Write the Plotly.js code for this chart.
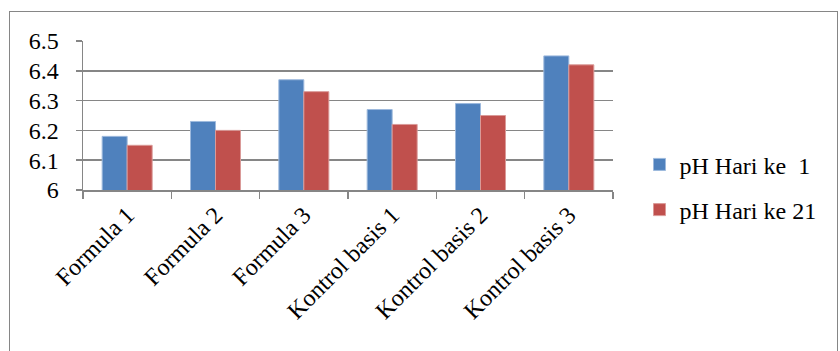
<!DOCTYPE html>
<html>
<head>
<meta charset="utf-8">
<script src="https://cdn.plot.ly/plotly-3.0.1.min.js"></script>
<style>
html,body{margin:0;padding:0;background:#fff;}
#wrap{position:relative;width:840px;height:351px;}
#chart{position:absolute;left:0;top:0;width:840px;height:351px;}
#frame{position:absolute;left:9px;top:11px;width:829px;height:360px;border:1.5px solid #868686;pointer-events:none;box-sizing:border-box;}
</style>
</head>
<body>
<div id="wrap"><div id="chart"></div><div id="frame"></div></div>
<script>
const categories = ["Formula 1", "Formula 2", "Formula 3", "Kontrol basis 1", "Kontrol basis 2", "Kontrol basis 3"];
const seriesNames = ["pH Hari ke  1", "pH Hari ke 21"];
const day1 = [6.18, 6.23, 6.37, 6.27, 6.29, 6.45];
const day21 = [6.15, 6.20, 6.33, 6.22, 6.25, 6.42];
const yTicks = [6, 6.1, 6.2, 6.3, 6.4, 6.5];
const yTickLabels = ["6", "6.1", "6.2", "6.3", "6.4", "6.5"];

const font = {family: "Liberation Serif", size: 24, color: "#000"};

const traces = [
  {type: "bar", x: categories, y: day1, name: seriesNames[0], legendgroup: "a",
   marker: {color: "#4F81BD", line: {color: "#9DB9DD", width: 1}}},
  {type: "bar", x: categories, y: day21, name: seriesNames[1], legendgroup: "b",
   marker: {color: "#C0504D", line: {color: "#DA9A98", width: 1}}}
];

const layout = {
  width: 840, height: 351,
  margin: {l: 83, r: 227, t: 41, b: 161},
  paper_bgcolor: "#fff", plot_bgcolor: "#fff",
  font: font,
  barmode: "group", bargap: 0.434, bargroupgap: 0,
  showlegend: true,
  legend: {x: 1.05, y: 0.32, xanchor: "left", yanchor: "top", font: font,
           traceorder: "grouped", tracegroupgap: 11, itemwidth: 30},
  xaxis: {type: "category", tickangle: -45, showgrid: false, showline: true,
          linecolor: "#868686", linewidth: 1.5, ticks: "outside", tickson: "boundaries",
          ticklen: 7, tickcolor: "#868686", tickwidth: 1.5, tickfont: font, automargin: false},
  yaxis: {range: [6, 6.5], tickvals: yTicks, ticktext: yTickLabels, showgrid: true,
          gridcolor: "#868686", gridwidth: 1.5, showline: true, linecolor: "#868686",
          linewidth: 1.5, ticks: "outside", ticklen: 6, tickcolor: "#868686", tickwidth: 1.5,
          ticklabelstandoff: 12, tickfont: font, zeroline: false, automargin: false}
};

Plotly.newPlot("chart", traces, layout, {staticPlot: true, displayModeBar: false});
</script>
</body>
</html>
